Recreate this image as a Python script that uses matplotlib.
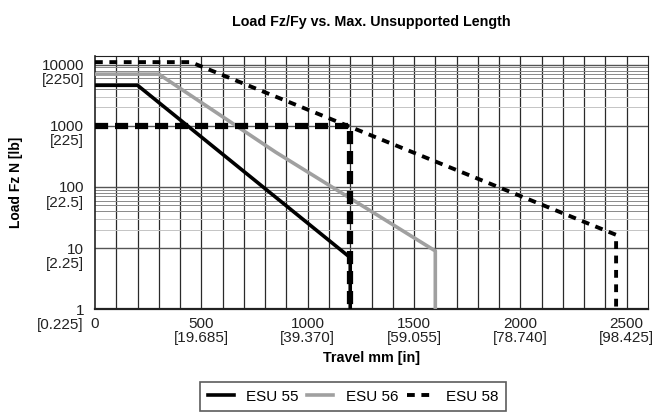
import matplotlib.pyplot as plt
import matplotlib.transforms as mtransforms
import numpy as np

plt.rcParams["font.family"] = ["Liberation Sans", "DejaVu Sans"]

# travel (mm) / load (N)
esu55_x = [0, 200, 1200, 1200]
esu55_y = [4600, 4600, 7, 1]
esu56_x = [0, 300, 850, 1600, 1600]
esu56_y = [7000, 7000, 370, 9, 1]
esu58_x = [0, 450, 2450, 2450]
esu58_y = [11000, 11000, 16.5, 1]
fy_limit_x = [0, 1200, 1200]
fy_limit_y = [1000, 1000, 1]

x_ticks = [0, 500, 1000, 1500, 2000, 2500]
x_tick_labels = ["0", "500\n[19.685]", "1000\n[39.370]", "1500\n[59.055]",
                 "2000\n[78.740]", "2500\n[98.425]"]
y_ticks = [1, 10, 100, 1000, 10000]
y_tick_labels = ["1\n[0.225]", "10\n[2.25]", "100\n[22.5]", "1000\n[225]", "10000\n[2250]"]

fig = plt.figure(figsize=(6.57, 4.19), dpi=100)
ax = fig.add_axes([0.1446, 0.2618, 0.8417, 0.6052])
ax.set_yscale("log")
ax.set_xlim(0, 2600)
ax.set_ylim(1, 14000)

# grid: verticals every 100 mm, decade lines, minor lines in alternate decades
for gx in range(100, 2600, 100):
    ax.axvline(gx, color="#2a2a2a", linewidth=0.9, zorder=1)
for gy in y_ticks[1:]:
    ax.axhline(gy, color="#555555", linewidth=1.0, zorder=1)
for base in (10, 1000):
    for m in range(2, 10):
        col = "#c4c4c4" if m <= 3 else "#8a8a8a"
        ax.axhline(base * m, color=col, linewidth=0.7, zorder=1)

ax.plot(fy_limit_x, fy_limit_y, color="black", linewidth=4.5,
        dashes=(2.1, 1.1), solid_capstyle="butt", zorder=4)
l55, = ax.plot(esu55_x, esu55_y, color="black", linewidth=2.6, label="ESU 55", zorder=5)
l56, = ax.plot(esu56_x, esu56_y, color="#a0a0a0", linewidth=2.6, label="ESU 56", zorder=3)
l58, = ax.plot(esu58_x, esu58_y, color="black", linewidth=2.8, dashes=(2.0, 1.7),
               label="ESU 58", zorder=6)

ax.set_xticks(x_ticks)
ax.set_xticklabels([])
ax.set_yticks(y_ticks)
ax.set_yticklabels([])
ax.minorticks_off()
ax.tick_params(length=0)

tick_font = dict(fontsize=11, color="#222222", linespacing=1.02)
ytrans = mtransforms.offset_copy(ax.get_yaxis_transform(), fig=fig, x=-8, y=4, units="points")
for v, lab in zip(y_ticks, y_tick_labels):
    ax.text(0, v, lab, transform=ytrans, ha="right", va="top", **tick_font)
xtrans = mtransforms.offset_copy(ax.get_xaxis_transform(), fig=fig, x=0, y=-5.5, units="points")
for v, lab in zip(x_ticks, x_tick_labels):
    ax.text(v, 0, lab, transform=xtrans, ha="center", va="top",
            multialignment="center", **tick_font)

for s in ax.spines.values():
    s.set_color("#222222")
ax.spines["bottom"].set_linewidth(1.6)
ax.spines["left"].set_linewidth(1.2)

fig.text(0.565, 0.948, "Load Fz/Fy vs. Max. Unsupported Length", ha="center", va="center",
         fontsize=10.3, fontweight="bold")
fig.text(0.565, 0.146, "Travel mm [in]", ha="center", va="center", fontsize=10.3,
         fontweight="bold")
fig.text(0.025, 0.565, "Load Fz N [lb]", ha="center", va="center", rotation=90,
         fontsize=10, fontweight="bold")

leg = fig.legend(handles=[l55, l56, l58], loc="center", bbox_to_anchor=(0.537, 0.053),
                 ncol=3, frameon=True, fancybox=False, fontsize=11, handlelength=1.7,
                 columnspacing=0.6, handletextpad=0.8, borderpad=0.5)
leg.get_frame().set_edgecolor("#333333")
leg.get_frame().set_linewidth(1.2)

fig.savefig("out.png", dpi=100)
